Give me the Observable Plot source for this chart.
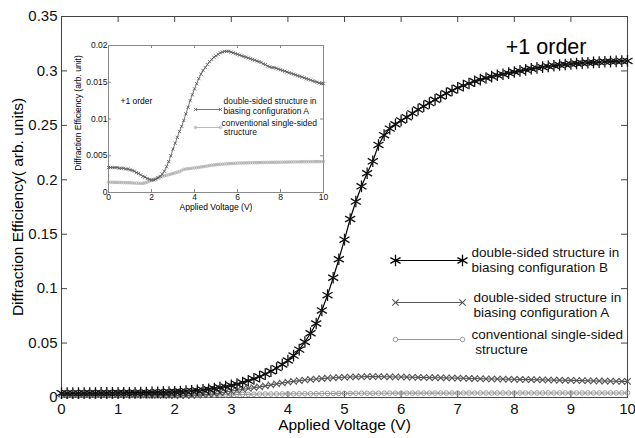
<!DOCTYPE html>
<html><head><meta charset="utf-8">
<script src="https://cdn.jsdelivr.net/npm/d3@7"></script>
<script src="https://cdn.jsdelivr.net/npm/@observablehq/plot@0.6"></script>
<style>
body{margin:0;background:#fff;}
#wrap{position:relative;width:635px;height:438px;background:#fff;font-family:"Liberation Sans",Arial,sans-serif;}
#main{position:absolute;left:0;top:0;}
#inset{position:absolute;left:68px;top:28px;}
</style></head><body><div id="wrap"><div id="main"></div><div id="inset"></div></div>
<script>
// ---------- data ----------
const voltage = [0,0.1,0.2,0.3,0.4,0.5,0.6,0.7,0.8,0.9,1,1.1,1.2,1.3,1.4,1.5,1.6,1.7,1.8,1.9,2,2.1,2.2,2.3,2.4,2.5,2.6,2.7,2.8,2.9,3,3.1,3.2,3.3,3.4,3.5,3.6,3.7,3.8,3.9,4,4.1,4.2,4.3,4.4,4.5,4.6,4.7,4.8,4.9,5,5.1,5.2,5.3,5.4,5.5,5.6,5.7,5.8,5.9,6,6.1,6.2,6.3,6.4,6.5,6.6,6.7,6.8,6.9,7,7.1,7.2,7.3,7.4,7.5,7.6,7.7,7.8,7.9,8,8.1,8.2,8.3,8.4,8.5,8.6,8.7,8.8,8.9,9,9.1,9.2,9.3,9.4,9.5,9.6,9.7,9.8,9.9,10];

// double-sided structure, biasing configuration B
const seriesB = [0.0040,0.0040,0.0040,0.0040,0.0041,0.0041,0.0041,0.0042,0.0042,0.0042,
0.0043,0.0043,0.0044,0.0044,0.0045,0.0046,0.0047,0.0048,0.0049,0.0051,
0.0053,0.0055,0.0058,0.0061,0.0065,0.0070,0.0076,0.0083,0.0091,0.0100,
0.0111,0.0123,0.0137,0.0153,0.0171,0.0192,0.0215,0.0241,0.0270,0.0303,
0.0340,0.0385,0.0440,0.0510,0.0590,0.0680,0.0800,0.0940,0.1100,0.1270,
0.1450,0.1640,0.1800,0.1940,0.2060,0.2170,0.2320,0.2410,0.2470,0.2510,
0.2545,0.2575,0.2610,0.2645,0.2675,0.2705,0.2735,0.2765,0.2795,0.2820,
0.2845,0.2865,0.2885,0.2905,0.2920,0.2935,0.2948,0.2960,0.2970,0.2980,
0.2990,0.3000,0.3010,0.3020,0.3028,0.3035,0.3042,0.3048,0.3054,0.3059,
0.3064,0.3068,0.3072,0.3075,0.3078,0.3081,0.3084,0.3086,0.3088,0.3090,0.3092];

// double-sided structure, biasing configuration A
const seriesA = [0.0034,0.0034,0.0034,0.0034,0.0034,0.0033,0.0033,0.0033,0.0032,0.0032,
0.0031,0.0030,0.0029,0.0027,0.0026,0.0024,0.0022,0.0021,0.0019,0.0018,
0.0017,0.0017,0.0018,0.0020,0.0022,0.0025,0.0029,0.0035,0.0042,0.0050,
0.0059,0.0067,0.0075,0.0083,0.0090,0.0098,0.0107,0.0116,0.0125,0.0133,
0.0141,0.0148,0.0155,0.0161,0.0166,0.0170,0.0174,0.0178,0.0181,0.0184,
0.0186,0.0188,0.0190,0.0191,0.0192,0.0192,0.0192,0.0191,0.0190,0.0189,
0.0188,0.0187,0.0186,0.0185,0.0184,0.0183,0.0182,0.0181,0.0180,0.0179,
0.0178,0.0177,0.0175,0.0174,0.0172,0.0171,0.0170,0.0170,0.0169,0.0168,
0.0167,0.0166,0.0165,0.0164,0.0163,0.0162,0.0161,0.0160,0.0159,0.0158,
0.0157,0.0156,0.0155,0.0154,0.0153,0.0152,0.0151,0.0150,0.0149,0.0148,0.0148];

// conventional single-sided structure
const seriesC = [0.00140,0.00140,0.00139,0.00139,0.00138,0.00137,0.00136,0.00135,0.00134,0.00133,
0.00132,0.00130,0.00128,0.00126,0.00125,0.00124,0.00125,0.00130,0.00140,0.00152,
0.00165,0.00178,0.00190,0.00200,0.00210,0.00218,0.00226,0.00234,0.00242,0.00250,
0.00258,0.00266,0.00275,0.00285,0.00300,0.00315,0.00320,0.00323,0.00327,0.00331,
0.00335,0.00339,0.00343,0.00347,0.00351,0.00356,0.00361,0.00366,0.00371,0.00375,
0.00378,0.00381,0.00384,0.00386,0.00388,0.00390,0.00392,0.00394,0.00396,0.00398,
0.00400,0.00401,0.00402,0.00402,0.00403,0.00404,0.00404,0.00405,0.00406,0.00406,
0.00407,0.00408,0.00408,0.00409,0.00410,0.00410,0.00411,0.00411,0.00412,0.00412,
0.00413,0.00413,0.00414,0.00414,0.00415,0.00415,0.00416,0.00416,0.00417,0.00417,
0.00418,0.00418,0.00418,0.00419,0.00419,0.00419,0.00420,0.00420,0.00420,0.00420,0.00421];

const mainXTicks = [0,1,2,3,4,5,6,7,8,9,10];
const mainYTicks = [0,0.05,0.1,0.15,0.2,0.25,0.3,0.35];
const insetXTicks = [0,2,4,6,8,10];
const insetYTicks = [0,0.005,0.01,0.015,0.02];

const labelB = ["double-sided structure in","biasing configuration B"];
const labelA = ["double-sided structure in","biasing configuration A"];
const labelC = ["conventional single-sided"," structure"];

const rows = voltage.map((v,i)=>({v, b: seriesB[i], a: seriesA[i], c: seriesC[i]}));
const fmt = d => String(+d.toFixed(3));
const FONT = "Liberation Sans, Arial, sans-serif";

// ---------- main chart ----------
const M = {left:61, right:8, top:16, bottom:41, W:635, H:438};
const pw = M.W - M.left - M.right, ph = M.H - M.top - M.bottom;
const axisColor = "#444";
// helper scales (layout only) to place the legend glyphs in data space
const SX = Plot.scale({x:{domain:[0,10], range:[M.left, M.W-M.right]}});
const SY = Plot.scale({y:{domain:[0,0.35], range:[M.H-M.bottom, M.top]}});
const legRows = [
  {key:"b", y:260, tx:471, ty:[252,267], stroke:"#000", symbol:"asterisk", r:5.5, sw:1.3},
  {key:"a", y:302, tx:473, ty:[297,312], stroke:"#555", symbol:"times", r:3, sw:1.1},
  {key:"c", y:339, tx:471, ty:[334,349], stroke:"#999", symbol:"circle", r:2.3, sw:1}
];
const legLabels = {b: labelB, a: labelA, c: labelC};
const legMarks = [];
for (const L of legRows) {
  const seg = [{x: SX.invert(395), y: SY.invert(L.y)}, {x: SX.invert(462), y: SY.invert(L.y)}];
  legMarks.push(Plot.line(seg, {x:"x", y:"y", stroke: L.stroke, strokeWidth: 1.2}));
  legMarks.push(Plot.dot(seg, {x:"x", y:"y", symbol: L.symbol, r: L.r, stroke: L.stroke, strokeWidth: L.sw, fill: L.symbol==="circle" ? "white" : "none"}));
  legLabels[L.key].forEach((t,j) => {
    legMarks.push(Plot.text([t], {x: SX.invert(L.tx), y: SY.invert(L.ty[j]), text: d=>d, textAnchor:"start", lineAnchor:"middle", fontSize: 13.5, fill:"#111"}));
  });
}

const main = Plot.plot({
  width: M.W, height: M.H,
  marginLeft: M.left, marginRight: M.right, marginTop: M.top, marginBottom: M.bottom,
  style: {fontFamily: FONT, background: "white", color: "#111", overflow: "visible"},
  x: {domain: [0,10], label: null},
  y: {domain: [0,0.35], label: null},
  marks: [
    Plot.frame({stroke: axisColor, strokeWidth: 1}),
    Plot.tickX(mainXTicks, {x: d=>d, insetTop: ph-6, stroke: axisColor}),
    Plot.tickX(mainXTicks, {x: d=>d, insetBottom: ph-6, stroke: axisColor}),
    Plot.tickY(mainYTicks, {y: d=>d, insetRight: pw-6, stroke: axisColor}),
    Plot.tickY(mainYTicks, {y: d=>d, insetLeft: pw-6, stroke: axisColor}),
    Plot.axisX({ticks: mainXTicks, tickFormat: fmt, tickSize: 0, tickPadding: 6, fontSize: 15, label: null}),
    Plot.axisY({ticks: mainYTicks, tickFormat: fmt, tickSize: 0, tickPadding: 4, fontSize: 15, label: null}),
    Plot.line(rows, {x:"v", y:"c", stroke:"#999", strokeWidth: 1.1}),
    Plot.dot(rows, {x:"v", y:"c", symbol:"circle", r: 2.3, stroke:"#999", strokeWidth: 1, fill:"none"}),
    Plot.line(rows, {x:"v", y:"a", stroke:"#555", strokeWidth: 1.1}),
    Plot.dot(rows, {x:"v", y:"a", symbol:"times", r: 3, stroke:"#555", strokeWidth: 1.1}),
    Plot.line(rows, {x:"v", y:"b", stroke:"#000", strokeWidth: 1.2}),
    Plot.dot(rows, {x:"v", y:"b", symbol:"asterisk", r: 5.5, stroke:"#111", strokeWidth: 1.3}),
    ...legMarks,
    Plot.text(["+1 order"], {frameAnchor:"top-right", dx: -41, dy: 31, textAnchor:"end", lineAnchor:"middle", fontSize: 21.5, fill:"#000"}),
    Plot.text(["Applied Voltage (V)"], {frameAnchor:"bottom", dy: 28, textAnchor:"middle", lineAnchor:"middle", fontSize: 15.5, fill:"#000"}),
    Plot.text(["Diffraction Efficiency( arb. units)"], {frameAnchor:"left", dx: -43, rotate: -90, textAnchor:"middle", lineAnchor:"middle", fontSize: 15.5, fill:"#000"})
  ]
});
document.getElementById("main").appendChild(main);

// ---------- inset chart ----------
const I = {left:40, right:15, top:17, bottom:26, W:270, H:190};
const ipw = I.W - I.left - I.right, iph = I.H - I.top - I.bottom;
const insetAxis = "#888";
const ISX = Plot.scale({x:{domain:[0,10], range:[68+I.left, 68+I.W-I.right]}});
const ISY = Plot.scale({y:{domain:[0,0.02], range:[28+I.H-I.bottom, 28+I.top]}});
const insetLeg = [
  {key:"a", y:109, tx:223, ty:[101,111], stroke:"#555", symbol:"times", r:1.6},
  {key:"c", y:127, tx:221, ty:[123,132], stroke:"#aaa", symbol:"circle", r:1.3}
];
const insetLegMarks = [];
for (const L of insetLeg) {
  const seg = [{x: ISX.invert(195), y: ISY.invert(L.y)}, {x: ISX.invert(220), y: ISY.invert(L.y)}];
  insetLegMarks.push(Plot.line(seg, {x:"x", y:"y", stroke: L.stroke, strokeWidth: 0.8}));
  insetLegMarks.push(Plot.dot(seg, {x:"x", y:"y", symbol: L.symbol, r: L.r, stroke: L.stroke, strokeWidth: 0.8, fill:"none"}));
  legLabels[L.key].forEach((t,j) => {
    insetLegMarks.push(Plot.text([t], {x: ISX.invert(L.tx), y: ISY.invert(L.ty[j]), text: d=>d, textAnchor:"start", lineAnchor:"middle", fontSize: 8.5, fill:"#111"}));
  });
}
const inset = Plot.plot({
  width: I.W, height: I.H,
  marginLeft: I.left, marginRight: I.right, marginTop: I.top, marginBottom: I.bottom,
  style: {fontFamily: FONT, background: "white", color: "#111", overflow: "visible"},
  x: {domain: [0,10], label: null},
  y: {domain: [0,0.02], label: null},
  marks: [
    Plot.frame({stroke: insetAxis}),
    Plot.tickX(insetXTicks, {x: d=>d, insetTop: iph-3, stroke: insetAxis}),
    Plot.tickX(insetXTicks, {x: d=>d, insetBottom: iph-3, stroke: insetAxis}),
    Plot.tickY(insetYTicks, {y: d=>d, insetRight: ipw-3, stroke: insetAxis}),
    Plot.tickY(insetYTicks, {y: d=>d, insetLeft: ipw-3, stroke: insetAxis}),
    Plot.axisX({ticks: insetXTicks, tickFormat: fmt, tickSize: 0, tickPadding: 1, fontSize: 8.5, label: null}),
    Plot.axisY({ticks: insetYTicks, tickFormat: fmt, tickSize: 0, tickPadding: 1, fontSize: 8.5, label: null}),
    Plot.line(rows, {x:"v", y:"c", stroke:"#aaa", strokeWidth: 0.8}),
    Plot.dot(rows, {x:"v", y:"c", symbol:"circle", r: 1.3, stroke:"#aaa", strokeWidth: 0.8, fill:"none"}),
    Plot.line(rows, {x:"v", y:"a", stroke:"#555", strokeWidth: 0.8}),
    Plot.dot(rows, {x:"v", y:"a", symbol:"times", r: 1.6, stroke:"#555", strokeWidth: 0.8}),
    ...insetLegMarks,
    Plot.text(["+1 order"], {frameAnchor:"top-left", dx: 12, dy: 56, textAnchor:"start", lineAnchor:"middle", fontSize: 8.5, fill:"#000"}),
    Plot.text(["Applied Voltage (V)"], {frameAnchor:"bottom", dy: 15, textAnchor:"middle", lineAnchor:"middle", fontSize: 8.5, fill:"#000"}),
    Plot.text(["Diffraction Efficiency (arb. unit)"], {frameAnchor:"left", dx: -30, dy: -6, rotate: -90, textAnchor:"middle", lineAnchor:"middle", fontSize: 8.5, fill:"#000"})
  ]
});
document.getElementById("inset").appendChild(inset);
</script>
</body></html>
